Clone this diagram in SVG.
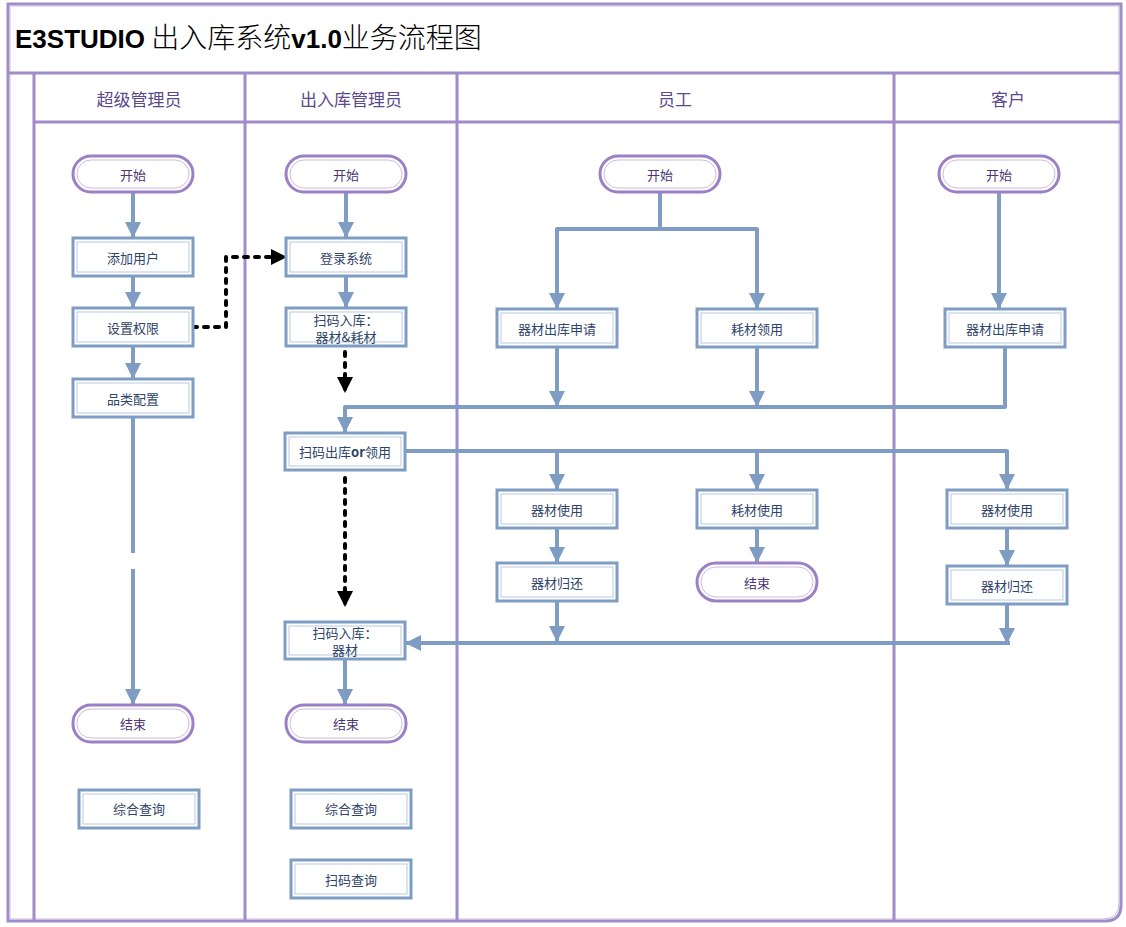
<svg xmlns="http://www.w3.org/2000/svg" width="1126" height="927" viewBox="0 0 1126 927">
<defs>
<style>
.frame{fill:none;stroke:#a08cc8;stroke-width:3}
.frame2{fill:none;stroke:#c9bce0;stroke-width:1}
.box{fill:#fff;stroke:#7f9dc2;stroke-width:3}
.boxin{fill:none;stroke:#b8c9df;stroke-width:1}
.term{fill:#fff;stroke:#9b80c6;stroke-width:3}
.termin{fill:none;stroke:#cbbde3;stroke-width:1}
.t{font-family:"Noto Sans CJK SC","Liberation Sans",sans-serif;font-size:13px;fill:#2e4469;text-anchor:middle;dominant-baseline:central}
.tt{font-family:"Noto Sans CJK SC","Liberation Sans",sans-serif;font-size:13px;fill:#4a3575;text-anchor:middle;dominant-baseline:central}
.h{font-family:"Noto Sans CJK SC","Liberation Sans",sans-serif;font-size:17px;fill:#5a4a8c;text-anchor:middle;dominant-baseline:central}
.c{fill:none;stroke:#7f9dc2;stroke-width:4;stroke-linejoin:round}
.d{fill:none;stroke:#000;stroke-width:4;stroke-dasharray:4 7;stroke-linecap:round;stroke-linejoin:round}
</style>
<marker id="a" viewBox="0 0 10 10" refX="10" refY="5" markerWidth="4" markerHeight="4" markerUnits="strokeWidth" orient="auto"><path d="M0,0 L10,5 L0,10 z" fill="#7f9dc2"/></marker>
<marker id="k" viewBox="0 0 10 10" refX="10" refY="5" markerWidth="4" markerHeight="4" markerUnits="strokeWidth" orient="auto"><path d="M0,0 L10,5 L0,10 z" fill="#000"/></marker>
</defs>
<rect width="1126" height="927" fill="#fff"/>
<g id="frame">
<path class="frame" d="M8,4 H1121 V905 Q1121,921 1105,921 H8 Z"/>
<path class="frame2" d="M10,6 H1119 V903 Q1119,919 1103,919 H10 Z"/>
<line class="frame" x1="8" y1="73" x2="1121" y2="73"/>
<line class="frame" x1="34" y1="122" x2="1121" y2="122"/>
<line class="frame" x1="34" y1="73" x2="34" y2="921"/>
<line class="frame" x1="245" y1="73" x2="245" y2="921"/>
<line class="frame" x1="457" y1="73" x2="457" y2="921"/>
<line class="frame" x1="894" y1="73" x2="894" y2="921"/>
<text x="15" y="48" font-family="'Noto Sans CJK SC','Liberation Sans',sans-serif" font-size="28" font-weight="300" fill="#000"><tspan font-weight="bold" font-size="26" font-family="'Liberation Sans',sans-serif">E3STUDIO</tspan> 出入库系统<tspan font-weight="bold" font-size="26" font-family="'Liberation Sans',sans-serif">v1.0</tspan>业务流程图</text>
<text class="h" x="139" y="98">超级管理员</text>
<text class="h" x="351" y="98">出入库管理员</text>
<text class="h" x="675" y="98">员工</text>
<text class="h" x="1008" y="98">客户</text>
</g>
<g id="connectors">
<line class="c" x1="133" y1="192" x2="133" y2="238" marker-end="url(#a)"/>
<line class="c" x1="133" y1="276" x2="133" y2="308" marker-end="url(#a)"/>
<line class="c" x1="133" y1="346" x2="133" y2="379" marker-end="url(#a)"/>
<line class="c" x1="133" y1="417" x2="133" y2="553"/>
<line class="c" x1="133" y1="569" x2="133" y2="705" marker-end="url(#a)"/>
<path class="d" d="M193,327 H226 V257 H287" marker-end="url(#k)"/>
<line class="c" x1="346" y1="192" x2="346" y2="238" marker-end="url(#a)"/>
<line class="c" x1="346" y1="276" x2="346" y2="308" marker-end="url(#a)"/>
<line class="d" x1="345" y1="352" x2="345" y2="393" marker-end="url(#k)"/>
<line class="d" x1="345" y1="478" x2="345" y2="607" marker-end="url(#k)"/>
<line class="c" x1="345" y1="659" x2="345" y2="705" marker-end="url(#a)"/>
<path class="c" d="M660,192 V229 H557 V309" marker-end="url(#a)"/>
<path class="c" d="M660,229 H757 V309" marker-end="url(#a)"/>
<line class="c" x1="557" y1="347" x2="557" y2="407" marker-end="url(#a)"/>
<line class="c" x1="757" y1="347" x2="757" y2="407" marker-end="url(#a)"/>
<line class="c" x1="999" y1="192" x2="999" y2="309" marker-end="url(#a)"/>
<path class="c" d="M1005,347 V407 H345 V433" marker-end="url(#a)"/>
<path class="c" d="M405,451 H1007 V490" marker-end="url(#a)"/>
<line class="c" x1="557" y1="451" x2="557" y2="490" marker-end="url(#a)"/>
<line class="c" x1="757" y1="451" x2="757" y2="490" marker-end="url(#a)"/>
<line class="c" x1="557" y1="528" x2="557" y2="563" marker-end="url(#a)"/>
<line class="c" x1="757" y1="528" x2="757" y2="563" marker-end="url(#a)"/>
<line class="c" x1="1007" y1="528" x2="1007" y2="566" marker-end="url(#a)"/>
<line class="c" x1="557" y1="601" x2="557" y2="642" marker-end="url(#a)"/>
<line class="c" x1="1007" y1="604" x2="1007" y2="644" marker-end="url(#a)"/>
<line class="c" x1="1010" y1="643" x2="405" y2="643" marker-end="url(#a)"/>
</g>
<g id="n1"><rect class="term" x="73" y="156" width="120" height="36" rx="18"/><rect class="termin" x="77" y="160" width="112" height="28" rx="14"/><text class="tt" x="133" y="174">开始</text></g>
<g id="n2"><rect class="box" x="73" y="238" width="120" height="38"/><rect class="boxin" x="77" y="242" width="112" height="30"/><text class="t" x="133" y="257">添加用户</text></g>
<g id="n3"><rect class="box" x="73" y="308" width="120" height="38"/><rect class="boxin" x="77" y="312" width="112" height="30"/><text class="t" x="133" y="327">设置权限</text></g>
<g id="n4"><rect class="box" x="73" y="379" width="120" height="38"/><rect class="boxin" x="77" y="383" width="112" height="30"/><text class="t" x="133" y="398">品类配置</text></g>
<g id="n5"><rect class="term" x="73" y="705" width="120" height="37" rx="18"/><rect class="termin" x="77" y="709" width="112" height="29" rx="14"/><text class="tt" x="133" y="723">结束</text></g>
<g id="n6"><rect class="box" x="79" y="790" width="120" height="38"/><rect class="boxin" x="83" y="794" width="112" height="30"/><text class="t" x="139" y="808">综合查询</text></g>
<g id="m1"><rect class="term" x="286" y="156" width="120" height="36" rx="18"/><rect class="termin" x="290" y="160" width="112" height="28" rx="14"/><text class="tt" x="346" y="174">开始</text></g>
<g id="m2"><rect class="box" x="286" y="238" width="120" height="38"/><rect class="boxin" x="290" y="242" width="112" height="30"/><text class="t" x="346" y="257">登录系统</text></g>
<g id="m3"><rect class="box" x="286" y="308" width="120" height="38"/><rect class="boxin" x="290" y="312" width="112" height="30"/><text class="t" x="346" y="319">扫码入库：</text><text class="t" x="346" y="336">器材&amp;耗材</text></g>
<g id="m4"><rect class="box" x="285" y="433" width="120" height="37"/><rect class="boxin" x="289" y="437" width="112" height="29"/><text class="t" x="345" y="451">扫码出库<tspan font-weight="bold">or</tspan>领用</text></g>
<g id="m5"><rect class="box" x="285" y="622" width="120" height="37"/><rect class="boxin" x="289" y="626" width="112" height="29"/><text class="t" x="345" y="632">扫码入库：</text><text class="t" x="345" y="649">器材</text></g>
<g id="m6"><rect class="term" x="286" y="705" width="120" height="37" rx="18"/><rect class="termin" x="290" y="709" width="112" height="29" rx="14"/><text class="tt" x="346" y="723">结束</text></g>
<g id="m7"><rect class="box" x="291" y="790" width="120" height="38"/><rect class="boxin" x="295" y="794" width="112" height="30"/><text class="t" x="351" y="808">综合查询</text></g>
<g id="m8"><rect class="box" x="291" y="860" width="120" height="38"/><rect class="boxin" x="295" y="864" width="112" height="30"/><text class="t" x="351" y="879">扫码查询</text></g>
<g id="e1"><rect class="term" x="600" y="156" width="120" height="36" rx="18"/><rect class="termin" x="604" y="160" width="112" height="28" rx="14"/><text class="tt" x="660" y="174">开始</text></g>
<g id="e2"><rect class="box" x="497" y="309" width="120" height="38"/><rect class="boxin" x="501" y="313" width="112" height="30"/><text class="t" x="557" y="328">器材出库申请</text></g>
<g id="e3"><rect class="box" x="697" y="309" width="120" height="38"/><rect class="boxin" x="701" y="313" width="112" height="30"/><text class="t" x="757" y="328">耗材领用</text></g>
<g id="e4"><rect class="box" x="497" y="490" width="120" height="38"/><rect class="boxin" x="501" y="494" width="112" height="30"/><text class="t" x="557" y="509">器材使用</text></g>
<g id="e5"><rect class="box" x="697" y="490" width="120" height="38"/><rect class="boxin" x="701" y="494" width="112" height="30"/><text class="t" x="757" y="509">耗材使用</text></g>
<g id="e6"><rect class="box" x="497" y="563" width="120" height="38"/><rect class="boxin" x="501" y="567" width="112" height="30"/><text class="t" x="557" y="582">器材归还</text></g>
<g id="e7"><rect class="term" x="697" y="563" width="120" height="38" rx="19"/><rect class="termin" x="701" y="567" width="112" height="30" rx="15"/><text class="tt" x="757" y="582">结束</text></g>
<g id="c1"><rect class="term" x="939" y="156" width="120" height="36" rx="18"/><rect class="termin" x="943" y="160" width="112" height="28" rx="14"/><text class="tt" x="999" y="174">开始</text></g>
<g id="c2"><rect class="box" x="945" y="309" width="120" height="38"/><rect class="boxin" x="949" y="313" width="112" height="30"/><text class="t" x="1005" y="328">器材出库申请</text></g>
<g id="c3"><rect class="box" x="947" y="490" width="120" height="38"/><rect class="boxin" x="951" y="494" width="112" height="30"/><text class="t" x="1007" y="509">器材使用</text></g>
<g id="c4"><rect class="box" x="947" y="566" width="120" height="38"/><rect class="boxin" x="951" y="570" width="112" height="30"/><text class="t" x="1007" y="585">器材归还</text></g>
</svg>
